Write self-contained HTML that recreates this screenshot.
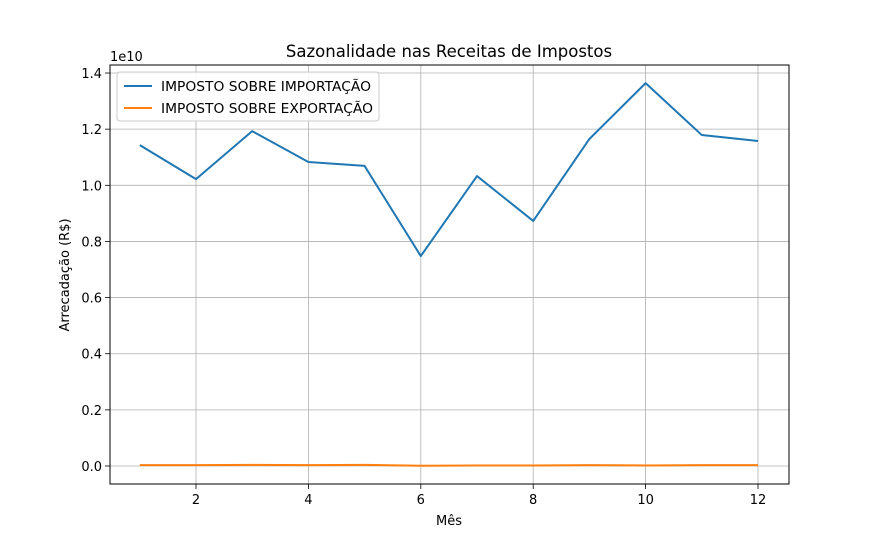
<!DOCTYPE html>
<html><head><meta charset="utf-8"><style>
body{margin:0;background:#fff;font-family:"Liberation Sans","DejaVu Sans",sans-serif;}
svg text{font-family:"DejaVu Sans","Liberation Sans",sans-serif;}
</style></head><body>
<svg id="chart" width="876" height="544" xmlns="http://www.w3.org/2000/svg">
<rect width="876" height="544" fill="#fff"/>
<g id="grid"></g><g id="axes"></g><g id="series"></g>
<text x="449" y="57" font-size="16.5" text-anchor="middle">Sazonalidade nas Receitas de Impostos</text>
<text x="449" y="525" font-size="13" text-anchor="middle">Mês</text>
<text transform="translate(69,275) rotate(-90)" font-size="13" text-anchor="middle">Arrecadação (R$)</text>
<text x="110" y="61" font-size="13">1e10</text>
<g>
<rect x="117" y="72" width="262" height="49" rx="3" fill="#fff" fill-opacity="0.85" stroke="#ccc"/>
<line x1="124" y1="86" x2="152" y2="86" stroke="#1f77b4" stroke-width="2"/>
<text x="161" y="91" font-size="13" textLength="210" lengthAdjust="spacingAndGlyphs">IMPOSTO SOBRE IMPORTAÇÃO</text>
<line x1="124" y1="108" x2="152" y2="108" stroke="#ff7f0e" stroke-width="2"/>
<text x="161" y="113" font-size="13" textLength="212" lengthAdjust="spacingAndGlyphs">IMPOSTO SOBRE EXPORTAÇÃO</text>
</g>
</svg>
<script>
const months=[1,2,3,4,5,6,7,8,9,10,11,12];
const importVals=[1.143,1.022,1.193,1.083,1.069,0.748,1.033,0.873,1.165,1.364,1.179,1.158];
const exportVals=[0.003,0.003,0.004,0.003,0.004,0.001,0.002,0.002,0.003,0.002,0.003,0.003];
const xTicks=[2,4,6,8,10,12];
const yTicks=[0,0.2,0.4,0.6,0.8,1.0,1.2,1.4];
const yTickLabels=["0.0","0.2","0.4","0.6","0.8","1.0","1.2","1.4"];
const L=110,R=789,T=65,B=484;
const xs=v=>139.8+(v-1)*56.2;
const ys=v=>466-v*280.7;
const NS="http://www.w3.org/2000/svg";
function mk(tag,attrs,parent){const e=document.createElementNS(NS,tag);for(const k in attrs)e.setAttribute(k,attrs[k]);parent.appendChild(e);return e;}
const grid=document.getElementById('grid'),axes=document.getElementById('axes'),ser=document.getElementById('series');
xTicks.forEach(t=>{const x=xs(t);
 const g=mk('line',{x1:x,x2:x,y1:T,y2:B,stroke:'#b0b0b0','stroke-width':0.8},grid);
 
 
 mk('line',{x1:x,x2:x,y1:B,y2:B+5,stroke:'#000','stroke-width':0.8},axes);
 const tx=mk('text',{x:x,y:B+20,'font-size':13,'text-anchor':'middle'},axes);tx.textContent=t;
 
 
});
yTicks.forEach((t,i)=>{const y=ys(t);
 const g=mk('line',{x1:L,x2:R,y1:y,y2:y,stroke:'#b0b0b0','stroke-width':0.8},grid);
 
 
 mk('line',{x1:L-5,x2:L,y1:y,y2:y,stroke:'#000','stroke-width':0.8},axes);
 const tx=mk('text',{x:L-8,y:y+5,'font-size':13,'text-anchor':'end'},axes);tx.textContent=yTickLabels[i];
 
 
});
const fr=mk('rect',{x:L,y:T,width:R-L,height:B-T,fill:'none',stroke:'#000','stroke-width':1},axes);


function line(vals,color,name){
 const p=mk('polyline',{points:months.map((m,i)=>xs(m)+','+ys(vals[i])).join(' '),fill:'none',stroke:color,'stroke-width':2,'stroke-linejoin':'round'},ser);
 
 
}
line(importVals,'#1f77b4','import-line');
line(exportVals,'#ff7f0e','export-line');
</script>
</body></html>
